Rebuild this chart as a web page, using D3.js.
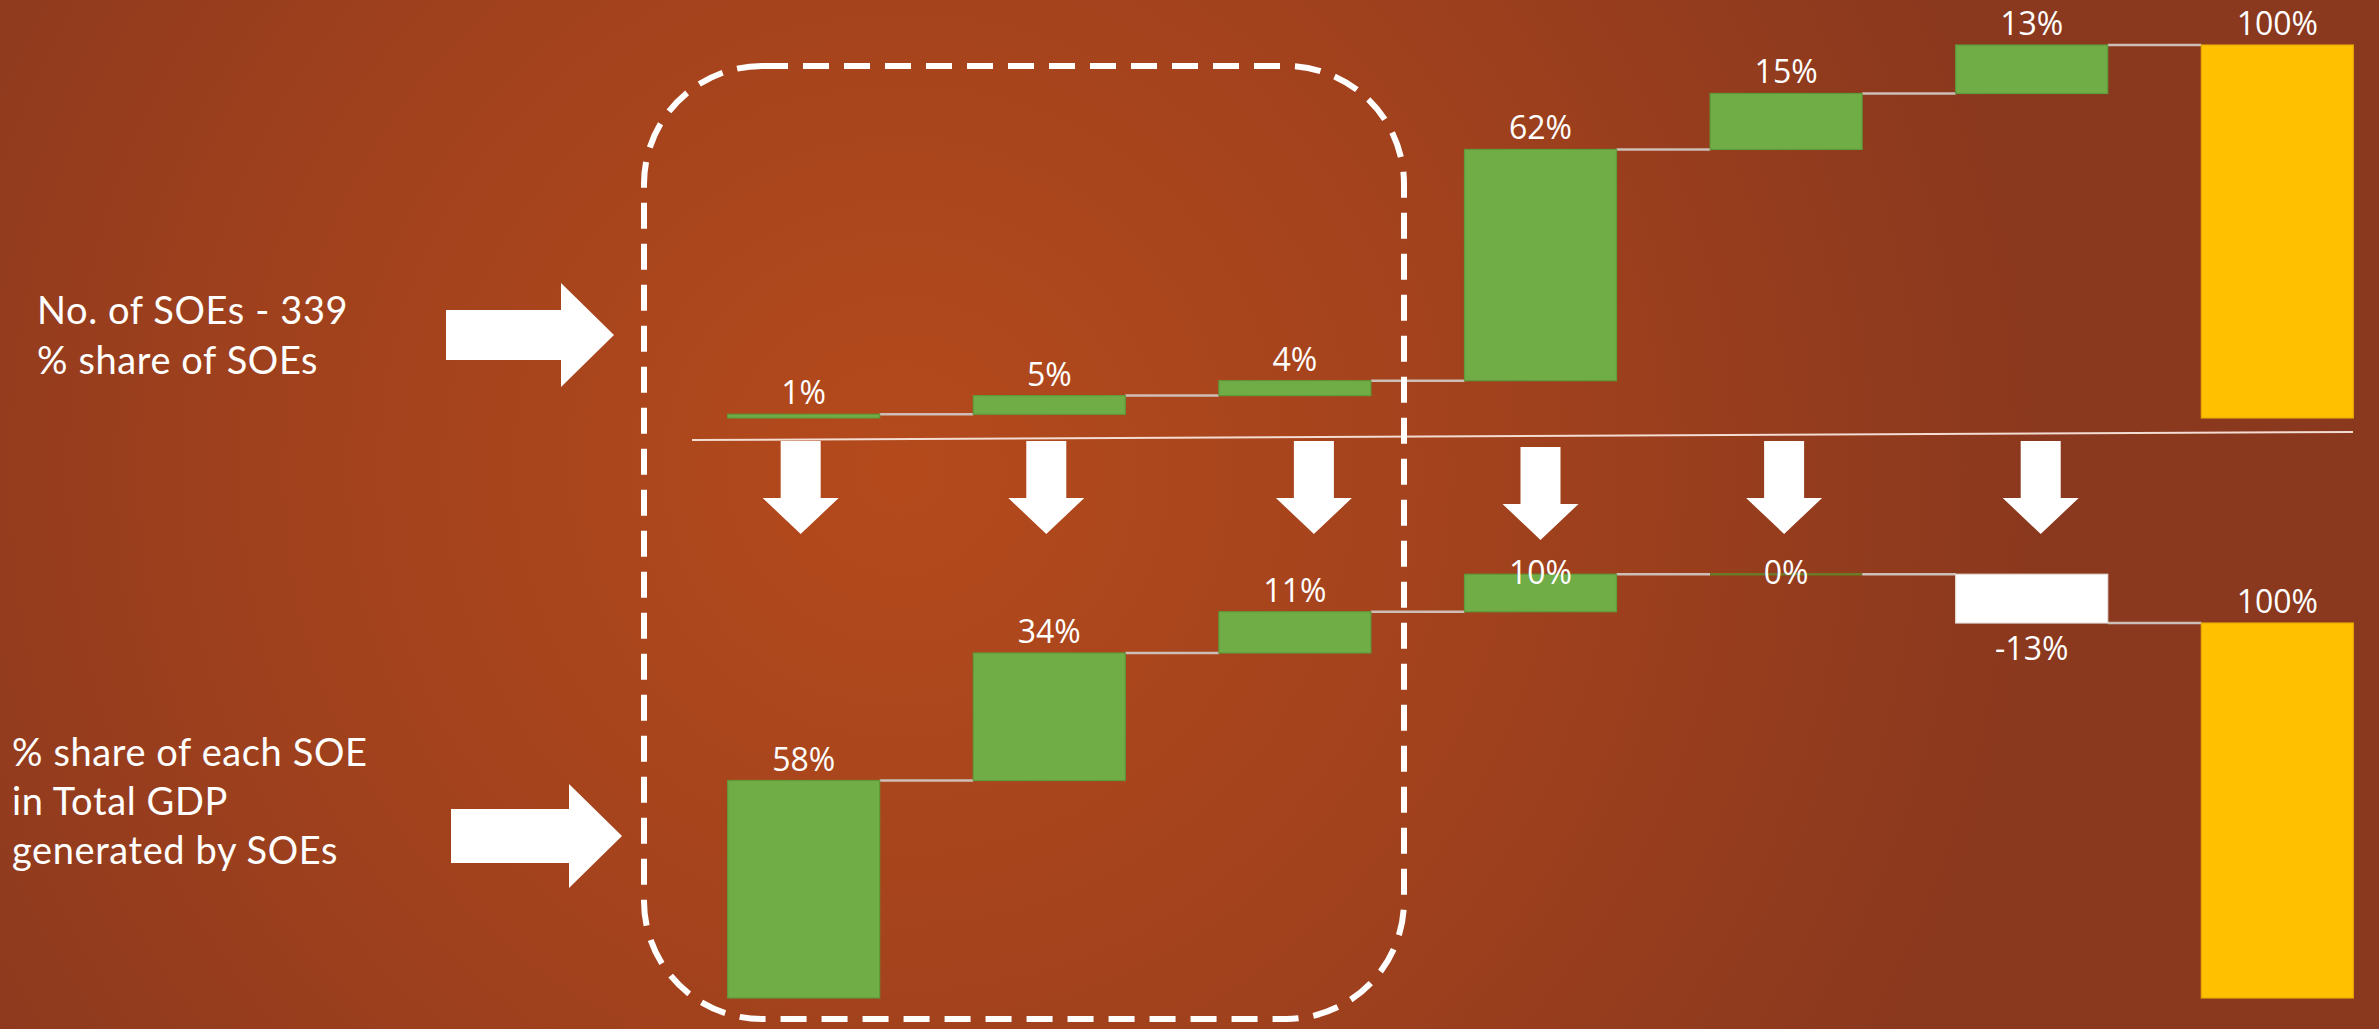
<!DOCTYPE html>
<html>
<head>
<meta charset="utf-8">
<script src="https://cdn.jsdelivr.net/npm/d3@7"></script>
<style>
  html, body { margin: 0; padding: 0; background: #8a381e; overflow: hidden; }
  svg { display: block; }
</style>
</head>
<body>
<svg id="chart" width="2379" height="1029"></svg>
<script>
// ---- data -------------------------------------------------------------
const categories = ["Group 1", "Group 2", "Group 3", "Group 4", "Group 5", "Group 6", "Total"];
// share of the 339 SOEs held by each group (%)
const soeShare = [1, 5, 4, 62, 15, 13, 100];
// share of each group in total GDP generated by SOEs (%)
const gdpShare = [58, 34, 11, 10, 0, -13, 100];
const topRowLabel = ["No. of SOEs - 339", "% share of SOEs"];
const bottomRowLabel = ["% share of each SOE", "in Total GDP", "generated by SOEs"];

// ---- layout -----------------------------------------------------------
const W = 2379, H = 1029;
const svg = d3.select("#chart");

const x = d3.scaleBand()
  .domain(categories)
  .range([681, 2400])
  .paddingInner(0.381)
  .paddingOuter(0.19);

const panels = [
  { values: soeShare, y: d3.scaleLinear().domain([0, 100]).range([418, 45]), minBaseline: 0 },
  { values: gdpShare, y: d3.scaleLinear().domain([0, 100]).range([998, 623]), minBaseline: 584 }
];

const colors = { up: "#70AD47", upEdge: "#5f9a3b", down: "#FFFFFF", downEdge: "#e8e2de",
                 total: "#FFC000", totalEdge: "#e9a900", flat: "#6a7a26" };
const numFont = "'Open Sans', 'Noto Sans', sans-serif";
const textFont = "Lato, 'Open Sans', sans-serif";

// ---- background -------------------------------------------------------
const defs = svg.append("defs");
const grad = defs.append("radialGradient")
  .attr("id", "bg").attr("gradientUnits", "userSpaceOnUse")
  .attr("cx", 900).attr("cy", 470).attr("r", 1150);
grad.append("stop").attr("offset", 0).attr("stop-color", "#b44a1c");
grad.append("stop").attr("offset", 0.55).attr("stop-color", "#a0411d");
grad.append("stop").attr("offset", 1).attr("stop-color", "#8a381e");
svg.append("rect").attr("width", W).attr("height", H).attr("fill", "url(#bg)");

// ---- waterfall steps --------------------------------------------------
function steps(values) {
  let cum = 0;
  return values.map((v, i) => {
    const isTotal = i === values.length - 1;
    const start = isTotal ? 0 : cum;
    const end = isTotal ? v : cum + v;
    if (!isTotal) cum += v;
    return { cat: categories[i], value: v, start, end, isTotal };
  });
}

panels.forEach(p => {
  const data = steps(p.values);
  const g = svg.append("g");
  const y = p.y;

  // connectors between consecutive bars
  g.selectAll("line.conn").data(data.slice(0, -1)).join("line")
    .attr("class", "conn")
    .attr("x1", d => x(d.cat) + x.bandwidth())
    .attr("x2", (d, i) => x(categories[i + 1]))
    .attr("y1", d => y(d.end)).attr("y2", d => y(d.end))
    .attr("stroke", "#cdbfb8").attr("stroke-width", 2.5);

  // bars
  g.selectAll("rect.bar").data(data.filter(d => d.value !== 0)).join("rect")
    .attr("class", "bar")
    .attr("x", d => x(d.cat))
    .attr("width", x.bandwidth())
    .attr("y", d => y(Math.max(d.start, d.end)))
    .attr("height", d => Math.abs(y(d.start) - y(d.end)))
    .attr("fill", d => d.isTotal ? colors.total : (d.value < 0 ? colors.down : colors.up))
    .attr("stroke", d => d.isTotal ? colors.totalEdge : (d.value < 0 ? colors.downEdge : colors.upEdge))
    .attr("stroke-width", 1.2);

  // a step of zero collapses to a flat line at its level
  g.selectAll("line.flat").data(data.filter(d => d.value === 0)).join("line")
    .attr("class", "flat")
    .attr("x1", d => x(d.cat)).attr("x2", d => x(d.cat) + x.bandwidth())
    .attr("y1", d => y(d.end)).attr("y2", d => y(d.end))
    .attr("stroke", colors.flat).attr("stroke-width", 2.5);

  // value labels
  g.selectAll("text.val").data(data).join("text")
    .attr("class", "val")
    .attr("x", d => x(d.cat) + x.bandwidth() / 2)
    .attr("y", d => d.value < 0
      ? y(Math.min(d.start, d.end)) + 37
      : Math.max(y(Math.max(d.start, d.end)) - 10, p.minBaseline))
    .attr("text-anchor", "middle")
    .attr("font-family", numFont)
    .attr("font-size", 32)
    .attr("fill", "#ffffff")
    .text(d => d.value + "%");
});

// ---- separator between the two rows ----------------------------------
svg.append("line")
  .attr("x1", 692).attr("y1", 440).attr("x2", 2353).attr("y2", 432)
  .attr("stroke", "#f3dcd2").attr("stroke-width", 2);

// ---- down arrows linking each group's two bars -----------------------
const arrowShift = [-3, -3, 19, 0, -2, 9];
const arrowTop = [441, 441, 441, 447, 441, 441];
const downArrow = (cx, top) => {
  const sw = 20, hw = 38, len = 93, head = 36;
  return `M${cx - sw},${top} L${cx + sw},${top} L${cx + sw},${top + len - head} L${cx + hw},${top + len - head}
          L${cx},${top + len} L${cx - hw},${top + len - head} L${cx - sw},${top + len - head} Z`;
};
svg.append("g").selectAll("path").data(categories.slice(0, -1)).join("path")
  .attr("d", (c, i) => downArrow(x(c) + x.bandwidth() / 2 + arrowShift[i], arrowTop[i]))
  .attr("fill", "#ffffff");

// ---- right arrows pointing at each row -------------------------------
const rightArrow = (x0, x1, xh, cy, sh, hh) =>
  `M${x0},${cy - sh} L${xh},${cy - sh} L${xh},${cy - hh} L${x1},${cy} L${xh},${cy + hh}
   L${xh},${cy + sh} L${x0},${cy + sh} Z`;
svg.append("path").attr("d", rightArrow(446, 614, 561, 335, 25, 52)).attr("fill", "#ffffff");
svg.append("path").attr("d", rightArrow(451, 622, 569, 836, 27, 52)).attr("fill", "#ffffff");

// ---- row captions -----------------------------------------------------
const cap = svg.append("g")
  .attr("font-family", textFont).attr("font-size", 38)
  .attr("fill", "#ffffff").attr("letter-spacing", 0.6);
cap.selectAll("text.t").data(topRowLabel).join("text")
  .attr("class", "t").attr("x", 37).attr("y", (d, i) => 324 + i * 50).text(d => d);
cap.selectAll("text.b").data(bottomRowLabel).join("text")
  .attr("class", "b").attr("x", 12).attr("y", (d, i) => 766 + i * 49).text(d => d);

// ---- dashed highlight around the first three groups ------------------
const bx0 = 644, bx1 = 1404, by0 = 66, by1 = 1019, rx = 118, ry = 118;
svg.append("path")
  .attr("d", `M${bx0 + rx},${by0} L${bx1 - rx},${by0}
              A${rx},${ry} 0 0 1 ${bx1},${by0 + ry} L${bx1},${by1 - ry}
              A${rx},${ry} 0 0 1 ${bx1 - rx},${by1} L${bx0 + rx},${by1}
              A${rx},${ry} 0 0 1 ${bx0},${by1 - ry} L${bx0},${by0 + ry}
              A${rx},${ry} 0 0 1 ${bx0 + rx},${by0} Z`)
  .attr("fill", "none").attr("stroke", "#ffffff")
  .attr("stroke-width", 6).attr("stroke-dasharray", "26 15");
</script>
</body>
</html>
